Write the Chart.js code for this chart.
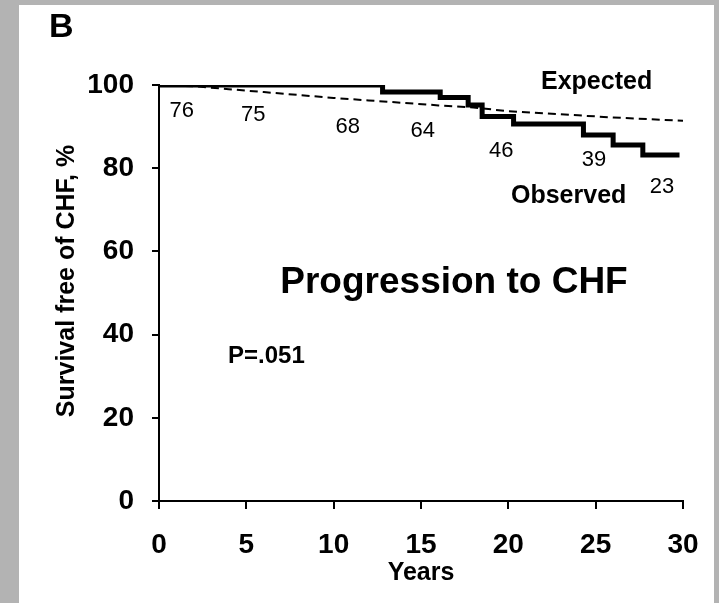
<!DOCTYPE html>
<html>
<head>
<meta charset="utf-8">
<title>Progression to CHF</title>
<script src="https://cdn.jsdelivr.net/npm/chart.js@4/dist/chart.umd.min.js"></script>
<style>
  html, body { margin: 0; padding: 0; background: #b3b3b3; width: 719px; height: 603px; overflow: hidden; }
  #wrap { position: absolute; left: 19px; top: 5px; width: 695px; height: 598px; background: #ffffff; }
  canvas { display: block; }
</style>
</head>
<body>
<div id="wrap"><canvas id="km" width="695" height="598"></canvas></div>
<script>
// Observed Kaplan-Meier curve: value after each drop (step-before)
const observedYears    = [0, 12.8, 16.1, 17.7, 18.5, 20.3, 24.3, 26.0, 27.7, 29.8];
const observedSurvival = [100, 98.3, 97.0, 95.2, 92.4, 90.6, 88.0, 85.6, 83.2, 83.2];

// Expected survival free of CHF
const expectedYears    = [0, 2, 4, 6, 8, 10, 12, 14, 16, 18, 20, 22, 24, 26, 28, 30];
const expectedSurvival = [100, 99.7, 99.0, 98.3, 97.6, 96.9, 96.3, 95.7, 95.1, 94.6, 93.7, 93.2, 92.7, 92.2, 91.8, 91.4];

// Numbers at risk at 5-year marks
const atRiskYears  = [0, 5, 10, 15, 20, 25, 30];
const atRiskCounts = [76, 75, 68, 64, 46, 39, 23];

const xTicks = [0, 5, 10, 15, 20, 25, 30];
const yTicks = [0, 20, 40, 60, 80, 100];

const FONT = '"Liberation Sans", Arial, Helvetica, sans-serif';

// where each at-risk count is written, in axis units
const atRiskAnchors = [[1.3, 93.8], [5.4, 92.8], [10.8, 89.9], [15.1, 88.9], [19.6, 84.1], [24.9, 81.9], [28.8, 75.5]];

const textPlugin = {
  id: 'kmText',
  afterDraw(chart) {
    const { ctx, scales: { x, y } } = chart;
    ctx.save();
    ctx.fillStyle = '#000';

    // panel letter
    ctx.font = 'bold 34px ' + FONT;
    ctx.textAlign = 'left';
    ctx.textBaseline = 'alphabetic';
    ctx.fillText('B', 30, 32);

    // curve labels
    ctx.font = 'bold 25px ' + FONT;
    ctx.fillText('Expected', 522, 84);
    ctx.fillText('Observed', 492, 198);

    // panel heading and p-value
    ctx.font = 'bold 37px ' + FONT;
    ctx.textAlign = 'center';
    ctx.fillText('Progression to CHF', 435, 288);
    ctx.font = 'bold 24px ' + FONT;
    ctx.textAlign = 'left';
    ctx.fillText('P=.051', 209, 358);

    // numbers at risk
    ctx.font = '22px ' + FONT;
    ctx.textAlign = 'center';
    ctx.textBaseline = 'middle';
    atRiskCounts.forEach((n, i) => {
      const a = atRiskAnchors[i];
      ctx.fillText(String(n), x.getPixelForValue(a[0]), y.getPixelForValue(a[1]));
    });

    // axis titles
    ctx.font = 'bold 25px ' + FONT;
    ctx.fillText('Years', (x.left + x.right) / 2, 568);
    ctx.translate(48, 276);
    ctx.rotate(-Math.PI / 2);
    ctx.font = 'bold 25px ' + FONT;
    ctx.fillText('Survival free of CHF, %', 0, 0);
    ctx.restore();
  }
};

new Chart(document.getElementById('km'), {
  type: 'line',
  data: {
    datasets: [
      {
        label: 'Observed',
        data: observedYears.map((t, i) => ({ x: t, y: observedSurvival[i] })),
        borderColor: '#000',
        borderWidth: 5,
        stepped: 'before',
        pointRadius: 0,
        fill: false
      },
      {
        label: 'Expected',
        data: expectedYears.map((t, i) => ({ x: t, y: expectedSurvival[i] })),
        borderColor: '#000',
        borderWidth: 2,
        borderDash: [8, 5],
        tension: 0,
        pointRadius: 0,
        fill: false
      }
    ]
  },
  options: {
    responsive: false,
    devicePixelRatio: 1,
    animation: false,
    layout: { padding: { left: 0, top: 80, right: 31, bottom: 0 } },
    plugins: { legend: { display: false }, tooltip: { enabled: false } },
    scales: {
      x: {
        type: 'linear',
        min: 0,
        max: 30,
        afterBuildTicks: s => { s.ticks = xTicks.map(v => ({ value: v })); },
        afterFit: s => { s.height = 102; s.paddingLeft = 0; s.paddingRight = 0; },
        border: { display: true, color: '#000', width: 2 },
        grid: { display: true, drawOnChartArea: false, color: '#000', lineWidth: 2, tickLength: 8 },
        ticks: { color: '#000', padding: 19, maxRotation: 0, font: { family: FONT, size: 28, weight: 'bold' } }
      },
      y: {
        min: 0,
        max: 100,
        afterBuildTicks: s => { s.ticks = yTicks.map(v => ({ value: v })); },
        afterFit: s => { s.width = 140; s.paddingTop = 0; s.paddingBottom = 0; },
        border: { display: true, color: '#000', width: 2 },
        grid: { display: true, drawOnChartArea: false, color: '#000', lineWidth: 2, tickLength: 7 },
        ticks: { color: '#000', padding: 18, font: { family: FONT, size: 28, weight: 'bold' } }
      }
    }
  },
  plugins: [textPlugin]
});
</script>
</body>
</html>
